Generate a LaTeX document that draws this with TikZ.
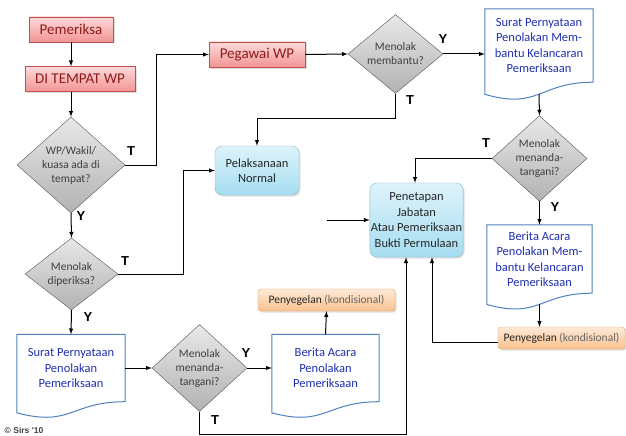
\documentclass[tikz,border=0pt]{standalone}
\usepackage{fontspec}
\setmainfont{Carlito}
\newfontfamily\arialfont{Liberation Sans}
\usetikzlibrary{shapes.geometric,shadows,calc}

\definecolor{merahatas}{HTML}{FDDADA}
\definecolor{merahbawah}{HTML}{F29494}
\definecolor{merahgaris}{HTML}{C0504D}
\definecolor{merahteks}{HTML}{8E1B1B}
\definecolor{abuatas}{HTML}{E8E8E8}
\definecolor{abubawah}{HTML}{B2B2B2}
\definecolor{abugaris}{HTML}{555555}
\definecolor{abuteks}{HTML}{3F3F3F}
\definecolor{biruatas}{HTML}{DDF3FB}
\definecolor{birubawah}{HTML}{A6DDF0}
\definecolor{birugaris}{HTML}{86B6CC}
\definecolor{dokgaris}{HTML}{4F81BD}
\definecolor{dokteks}{HTML}{1F2FB0}
\definecolor{oranyeatas}{HTML}{FEE9D6}
\definecolor{oranyebawah}{HTML}{F9C28F}
\definecolor{oranyegaris}{HTML}{E9A46A}

\begin{document}
\begin{tikzpicture}[x=1pt,y=-1pt,>=latex]

\tikzstyle{bayang}=[drop shadow={opacity=0.25,shadow xshift=1.5pt,shadow yshift=-1.5pt}]
\tikzstyle{redbox}=[rectangle,draw=merahgaris,top color=merahatas,bottom color=merahbawah,bayang,minimum height=25pt,inner sep=2pt,text=merahteks,font=\fontsize{15}{16}\selectfont]
\tikzstyle{decision}=[diamond,draw=abugaris,top color=abuatas,bottom color=abubawah,inner sep=0pt,align=center,text=abuteks,font=\fontsize{11.5}{14}\selectfont]
\tikzstyle{docbox}=[rectangle,inner sep=0pt,align=center,text=dokteks,font=\fontsize{12.5}{15.5}\selectfont]
\tikzstyle{docline}=[draw=dokgaris,line width=1pt]
\tikzstyle{prosesbox}=[rectangle,rounded corners=7pt,draw=birugaris,top color=biruatas,bottom color=birubawah,bayang,align=center,inner sep=1pt,text=black!85,font=\fontsize{12.5}{15.5}\selectfont]
\tikzstyle{segelbox}=[rectangle,rounded corners=3pt,draw=oranyegaris,top color=oranyeatas,bottom color=oranyebawah,bayang,minimum height=22pt,inner sep=1pt,text=black!85,font=\fontsize{11.5}{13}\selectfont]
\tikzstyle{garis}=[draw,line width=1pt,->]
\tikzstyle{jawab}=[font=\arialfont\bfseries\fontsize{13}{13}\selectfont]

\useasboundingbox (0,0) rectangle (626,436);

% kotak awal
\node[redbox,minimum width=84pt] (pemeriksa) at (71,29.5) {Pemeriksa};
\node[redbox,minimum width=110pt] (ditempat) at (80,79) {DI TEMPAT WP};
\node[redbox,minimum width=96pt] (pegawai) at (257,54.5) {Pegawai WP};

% keputusan
\node[decision,minimum width=108pt,minimum height=96pt] (adawp) at (71,165) {WP/Wakil/\\kuasa ada di\\tempat?};
\node[decision,minimum width=93pt,minimum height=72pt] (tolakperiksa) at (71.5,274) {Menolak\\diperiksa?};
\node[decision,minimum width=95pt,minimum height=87pt] (tandaperiksa) at (199.5,368) {Menolak\\menanda-\\tangani?};
\node[decision,minimum width=95pt,minimum height=73pt] (tolakbantu) at (395.5,54) {Menolak\\membantu?};
\node[decision,minimum width=95pt,minimum height=83pt] (tandabantu) at (539.5,158.5) {Menolak\\menanda-\\tangani?};

% dokumen
\node[docbox,minimum width=108pt,minimum height=67pt] (suratperiksa) at (71,368) {Surat Pernyataan\\Penolakan\\Pemeriksaan};
\node[docbox,minimum width=107pt,minimum height=67pt] (beritaperiksa) at (325.5,368) {Berita Acara\\Penolakan\\Pemeriksaan};
\node[docbox,minimum width=108pt,minimum height=73pt] (suratbantu) at (539,45.5) {Surat Pernyataan\\Penolakan Mem-\\bantu Kelancaran\\Pemeriksaan};
\node[docbox,minimum width=105pt,minimum height=68pt] (beritabantu) at (539.5,259) {Berita Acara\\Penolakan Mem-\\bantu Kelancaran\\Pemeriksaan};

\foreach \d in {suratperiksa,beritaperiksa,suratbantu,beritabantu}
{
  \draw[docline] let \p1=(\d.south west), \p2=(\d.north east), \n1={\y2-\y1} in
    (\x1,\y2) -- (\x2,\y2) -- (\x2,\y1)
    .. controls ({0.5*\x1+0.5*\x2},\y1) and ({0.5*\x1+0.5*\x2},{\y1-0.38*\n1}) .. (\x1,{\y1-0.165*\n1}) -- cycle;
}

% proses
\node[prosesbox,minimum width=84pt,minimum height=49pt] (normal) at (257,170.5) {Pelaksanaan\\Normal};
\node[prosesbox,minimum width=93pt,minimum height=74pt] (penetapan) at (416.5,220) {Penetapan\\Jabatan\\Atau Pemeriksaan\\Bukti Permulaan};

\node[segelbox,minimum width=137pt] (segelperiksa) at (326.5,300) {Penyegelan {\color{black!60}(kondisional)}};
\node[segelbox,minimum width=127pt] (segelbantu) at (561.5,338) {Penyegelan {\color{black!60}(kondisional)}};

% panah
\draw[garis] (pemeriksa.south) -- (ditempat.north -| pemeriksa);
\draw[garis] (ditempat.south -| adawp) -- (adawp.north);
\draw[garis] (adawp.east) -- ++(31,0) |- (pegawai.west);
\draw[garis] (adawp.south) -- (tolakperiksa.north);
\draw[garis] (tolakperiksa.east) -- ++(65,0) |- (normal.west);
\draw[garis] (tolakperiksa.south) -- (suratperiksa.north);
\draw[garis] (suratperiksa.east) -- (tandaperiksa.west);
\draw[garis] (tandaperiksa.east) -- (beritaperiksa.west);
\draw[garis] (beritaperiksa.north) -- (segelperiksa.south);
\draw[garis] (tandaperiksa.south) -- ++(0,23) -| ([xshift=-10.5pt]penetapan.south);
\draw[garis] (pegawai.east) -- (tolakbantu.west);
\draw[garis] (tolakbantu.east) -- (tolakbantu.east -| suratbantu.west);
\draw[garis] (tolakbantu.south) -- ++(0,25) -| (normal.north);
\draw[garis] ([yshift=-12pt]suratbantu.south) -- (tandabantu.north);
\draw[garis] (tandabantu.west) -| ([xshift=-1.5pt]penetapan.north);
\draw[garis] (tandabantu.south) -- (beritabantu.north);
\draw[garis] ([yshift=-11pt]beritabantu.south) -- (segelbantu.north -| beritabantu);
\draw[garis] ([yshift=-4pt]segelbantu.west) -| ([xshift=15.5pt]penetapan.south);
\coordinate (masuk) at (327,220);
\draw[garis] (masuk) -- (penetapan.west);

% jawaban Y / T
\foreach \nama/\px/\py/\huruf in {tadawp/131/151/T, yadawp/81/216/Y, tperiksa/125/261/T, yperiksa/88/317/Y,
  ytanda/246/353/Y, ttanda/215/420/T, ybantu/443/39/Y, tbantu/410/100/T, tbantutanda/486/143/T, ybantutanda/555/207/Y}
{
  \node[jawab] (\nama) at (\px,\py) {\huruf};
}

\node[font=\arialfont\bfseries\fontsize{8.5}{9}\selectfont,text=black!75] (hakcipta) at (24,430) {© Sirs '10};

\end{tikzpicture}
\end{document}
